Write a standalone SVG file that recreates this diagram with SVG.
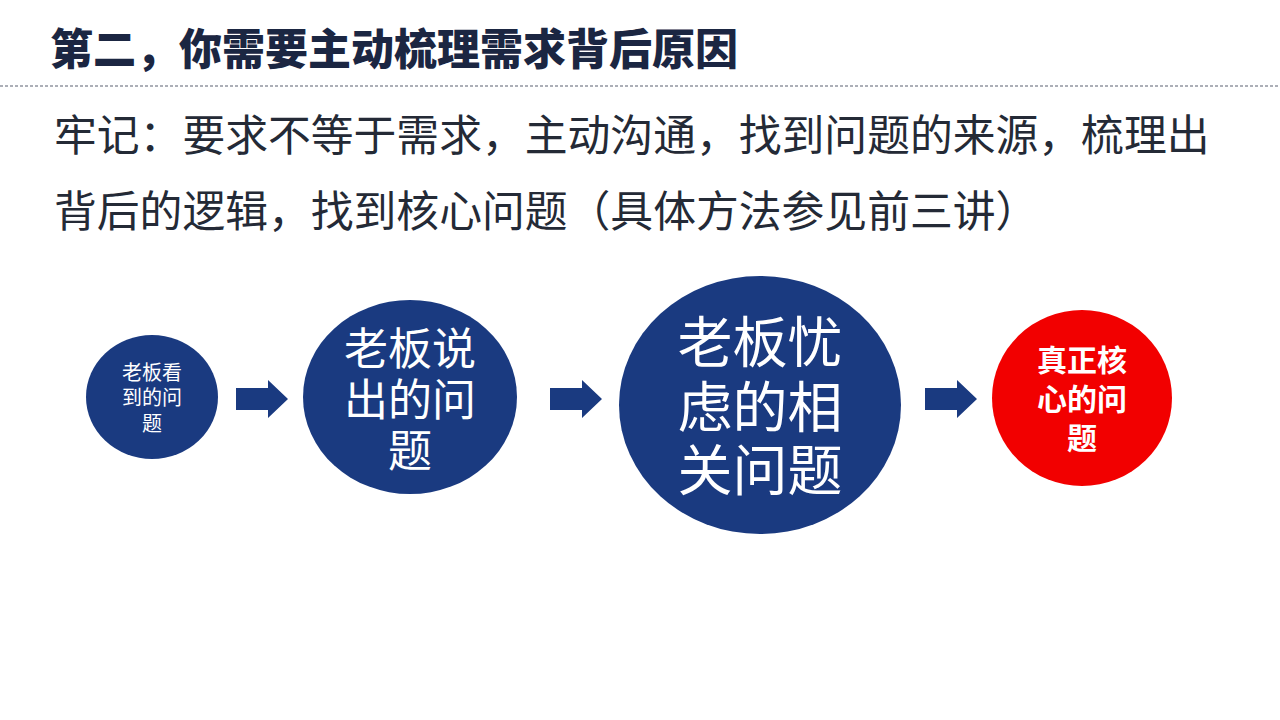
<svg xmlns="http://www.w3.org/2000/svg" width="1280" height="720" viewBox="0 0 1280 720">
<defs>
<style>
.t{font-family:"Noto Sans CJK SC","Noto Sans",sans-serif;}
.title{font-size:43px;font-weight:900;fill:#1b2642;}
.body{font-size:42.8px;fill:#242a36;}
.w{fill:#ffffff;text-anchor:middle;}
.navy{fill:#1a3a80;}
</style>
</defs>
<rect width="1280" height="720" fill="#ffffff"/>
<text class="t title" x="50" y="65">第二，你需要主动梳理需求背后原因</text>
<line x1="0" y1="86" x2="1280" y2="86" stroke="#5a6170" stroke-width="1.2" stroke-dasharray="3,2"/>
<text class="t body" x="54" y="151">牢记：要求不等于需求，主动沟通，找到问题的来源，梳理出</text>
<text class="t body" x="54" y="227">背后的逻辑，找到核心问题（具体方法参见前三讲）</text>

<g id="node1">
<ellipse class="navy" cx="152" cy="397" rx="66" ry="62"/>
<text class="t w" font-size="20" x="152" y="380">老板看</text>
<text class="t w" font-size="20" x="152" y="405">到的问</text>
<text class="t w" font-size="20" x="152" y="431">题</text>
</g>
<g id="node2">
<ellipse class="navy" cx="410" cy="397" rx="107" ry="97"/>
<text class="t w" font-size="44" x="410" y="365">老板说</text>
<text class="t w" font-size="44" x="410" y="416">出的问</text>
<text class="t w" font-size="44" x="410" y="467">题</text>
</g>
<g id="node3">
<ellipse class="navy" cx="760" cy="405" rx="141" ry="129"/>
<text class="t w" font-size="55" x="760" y="362">老板忧</text>
<text class="t w" font-size="55" x="760" y="427">虑的相</text>
<text class="t w" font-size="55" x="760" y="490">关问题</text>
</g>
<g id="node4">
<ellipse cx="1082" cy="398" rx="90" ry="88" fill="#f20000"/>
<text class="t w" font-size="30" font-weight="bold" x="1082" y="371">真正核</text>
<text class="t w" font-size="30" font-weight="bold" x="1082" y="410">心的问</text>
<text class="t w" font-size="30" font-weight="bold" x="1082" y="449">题</text>
</g>
<g id="connectors">
<polygon class="navy" points="236,388 268,388 268,380 288,399 268,418 268,410 236,410"/>
<polygon class="navy" points="550,388 582,388 582,380 602,399 582,418 582,410 550,410"/>
<polygon class="navy" points="925,388 957,388 957,380 977,399 957,418 957,410 925,410"/>
</g>
</svg>
